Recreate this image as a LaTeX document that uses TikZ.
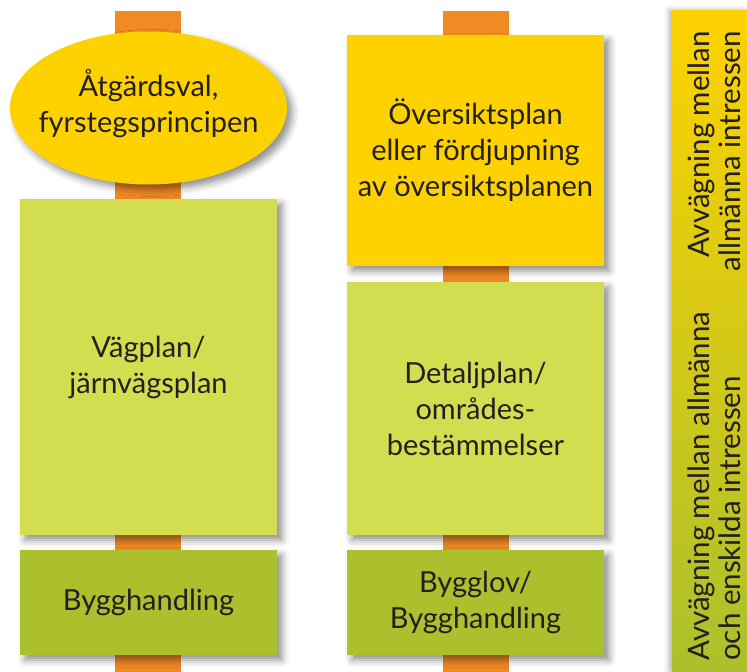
\documentclass[tikz,border=0pt]{standalone}
\usepackage{fontspec}
\setmainfont{Lato}
\usetikzlibrary{shapes.geometric,shadows.blur}
\definecolor{cyellow}{HTML}{FDD200}
\definecolor{clight}{HTML}{D2DE50}
\definecolor{cdark}{HTML}{ABC02C}
\definecolor{corange}{HTML}{F28A24}
\definecolor{ctext}{HTML}{231F20}
\tikzset{
  shad/.style={blur shadow={shadow xshift=5pt, shadow yshift=-5pt, shadow blur radius=7pt, shadow opacity=45}},
  box/.style={rectangle, shad, inner sep=0pt, minimum width=257pt, text=ctext, align=center,
     font=\fontsize{29}{36}\selectfont},
  oval/.style={ellipse, shad, inner sep=0pt, minimum width=277pt, minimum height=153pt},
  lbl/.style={inner sep=0pt, text=ctext, align=center, font=\fontsize{29}{36}\selectfont},
  bar/.style={draw=corange, line width=66pt, line cap=butt},
  striptext/.style={rotate=90, inner sep=0pt, text=ctext, font=\fontsize{29.5}{31.5}\selectfont}
}
\begin{document}
\begin{tikzpicture}[x=1pt,y=-1pt]
\useasboundingbox (0,0) rectangle (747,672);
% orange bars
\coordinate (ltop) at (148,11);
\coordinate (lbot) at (148,672);
\coordinate (mtop) at (476,11);
\coordinate (mbot) at (476,672);
\draw[bar] (ltop) -- (lbot);
\draw[bar] (mtop) -- (mbot);
% left column
\node[oval, fill=cyellow] (atg) at (148.5,108) {};
\node[lbl] (atgtxt) at (148.5,104) {Åtgärdsval,\\fyrstegsprincipen};
\node[box, fill=clight, minimum height=336pt] (vag) at (148.5,367) {Vägplan/\\järnvägsplan};
\node[box, fill=cdark, minimum height=105pt] (bygg) at (148.5,602.5) {Bygghandling};
% middle column
\node[box, fill=cyellow, minimum height=231pt] (ovs) at (475.5,150.5) {Översiktsplan\\eller fördjupning\\av översiktsplanen};
\node[box, fill=clight, minimum height=253pt] (det) at (475.5,408.5) {Detaljplan/\\områdes-\\bestämmelser};
\node[box, fill=cdark, minimum height=105pt] (lov) at (475.5,602.5) {Bygglov/\\Bygghandling};
% right strip
\node[rectangle, inner sep=0pt, minimum width=75pt, minimum height=662pt,
  blur shadow={shadow xshift=-3pt, shadow yshift=0pt, shadow blur radius=5pt, shadow opacity=30},
  top color=cyellow, middle color=clight, bottom color=cdark, shading angle=0] (strip) at (709.5,341) {};
\node[striptext, anchor=east, align=right] (t1) at (714,31) {Avvägning mellan\\allmänna intressen};
\node[striptext, anchor=west, align=left] (t2) at (714,661) {Avvägning mellan allmänna\\och enskilda intressen};
\end{tikzpicture}
\end{document}
